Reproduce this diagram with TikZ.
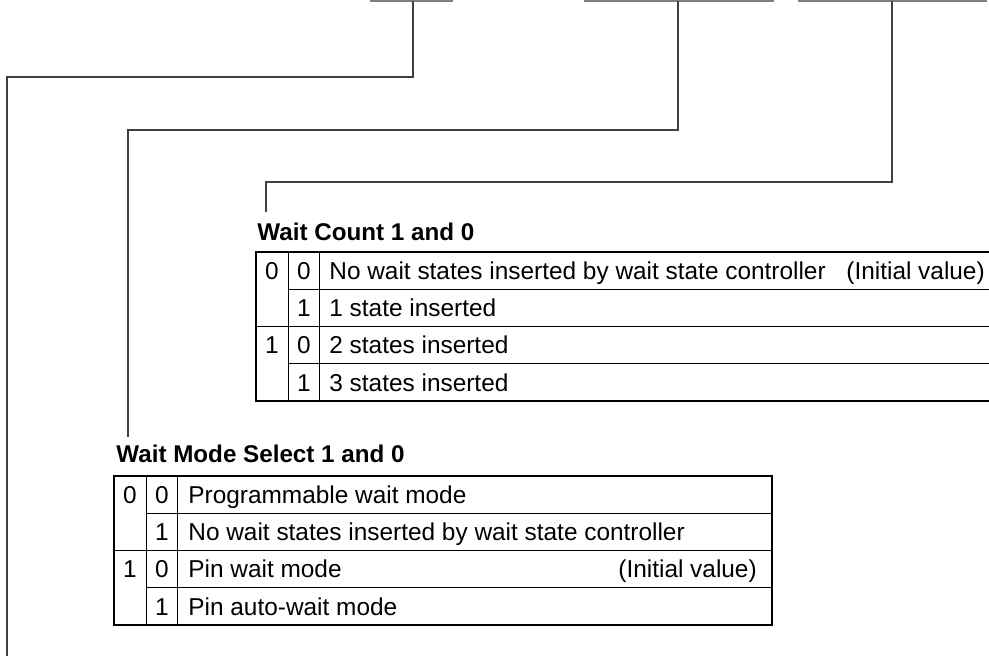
\documentclass[tikz,border=0pt]{standalone}
\usepackage{fontspec}
\setmainfont{Liberation Sans}
\begin{document}
\begin{tikzpicture}[x=0.5pt,y=-0.5pt,font=\fontsize{12.2}{14}\selectfont,
  lead/.style={draw=black!75,line width=0.55pt},
  grid/.style={draw=black,line width=0.55pt},
  title/.style={font=\fontsize{12.1}{14}\selectfont\bfseries,anchor=base west,inner sep=0pt},
  bitval/.style={anchor=base,inner sep=0pt},
  desc/.style={anchor=base west,inner sep=0pt}]
 \useasboundingbox (0,0) rectangle (989,656);
 % register bit fields (cut off at the top)
 \draw[gray,line width=1.1pt] (370,1) -- (453,1) (584,1) -- (774,1) (798,1) -- (987,1);
 \coordinate (fldA) at (413,1); \coordinate (fldB) at (678,1); \coordinate (fldC) at (892,1);
 \coordinate (rest) at (7,656); \coordinate (wmsTop) at (128,437); \coordinate (wcTop) at (266,212);
 \node[title] (wc) at (257,241) {Wait Count 1 and 0};
 \node[title] (wms) at (116,463) {Wait Mode Select 1 and 0};
 \draw[lead] (fldA) -- ++(0,76) -| (rest);
 \draw[lead] (fldB) -- ++(0,129) -| (wmsTop);
 \draw[lead] (fldC) -- ++(0,181) -| (wcTop);
 % wait count table
 \begin{scope}[shift={(256,252)}]
  \draw[grid] (733,0) -- (0,0) -- (0,149) -- (733,149);
  \draw[grid] (32.5,0) -- (32.5,149) (63.5,0) -- (63.5,149);
  \draw[grid] (0,74.5) -- (733,74.5) (32.5,37.25) -- (733,37.25) (32.5,111.75) -- (733,111.75);
  \node[bitval] (wc1a) at (16,27.3) {0}; \node[bitval] (wc0a) at (48,27.3) {0};
  \node[bitval] (wc0b) at (48,64.6) {1};
  \node[bitval] (wc1c) at (16,101.8) {1}; \node[bitval] (wc0c) at (48,101.8) {0};
  \node[bitval] (wc0d) at (48,139.1) {1};
  \node[desc] (wcA) at (73,27.3) {No wait states inserted by wait state controller};
  \node[desc] (wcInit) at (590,27.3) {(Initial value)};
  \node[desc] (wcB) at (73,64.6) {1 state inserted};
  \node[desc] (wcC) at (73,101.8) {2 states inserted};
  \node[desc] (wcD) at (73,139.1) {3 states inserted};
 \end{scope}
 % wait mode select table
 \begin{scope}[shift={(114,476)}]
  \draw[grid] (0,0) rectangle (658,149);
  \draw[grid] (32.5,0) -- (32.5,149) (63.5,0) -- (63.5,149);
  \draw[grid] (0,74.5) -- (658,74.5) (32.5,37.25) -- (658,37.25) (32.5,111.75) -- (658,111.75);
  \node[bitval] (wm1a) at (16,27.3) {0}; \node[bitval] (wm0a) at (48,27.3) {0};
  \node[bitval] (wm0b) at (48,64.6) {1};
  \node[bitval] (wm1c) at (16,101.8) {1}; \node[bitval] (wm0c) at (48,101.8) {0};
  \node[bitval] (wm0d) at (48,139.1) {1};
  \node[desc] (wmA) at (74,27.3) {Programmable wait mode};
  \node[desc] (wmB) at (74,64.6) {No wait states inserted by wait state controller};
  \node[desc] (wmC) at (74,101.8) {Pin wait mode};
  \node[desc] (wmInit) at (504,101.8) {(Initial value)};
  \node[desc] (wmD) at (74,139.1) {Pin auto-wait mode};
 \end{scope}
\end{tikzpicture}
\end{document}
